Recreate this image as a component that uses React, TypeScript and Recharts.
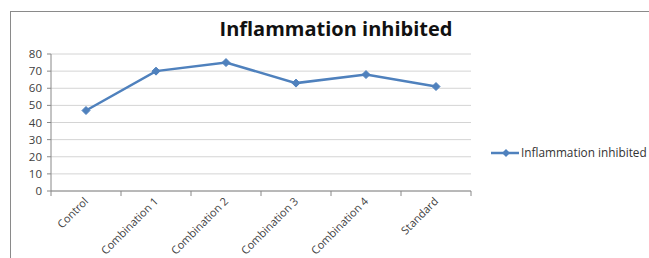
import React from 'react';
import { LineChart, Line, XAxis, YAxis, CartesianGrid } from 'recharts';

const categories = ['Control', 'Combination 1', 'Combination 2', 'Combination 3', 'Combination 4', 'Standard'];
const inhibited = [47, 70, 75, 63, 68, 61];
const yTicks = [0, 10, 20, 30, 40, 50, 60, 70, 80];
const seriesName = 'Inflammation inhibited';

const chartData = categories.map((name, i) => ({ name, value: inhibited[i] }));

const W = 649;
const H = 258;
const margin = { top: 54, right: 178, bottom: 0, left: 0 };
const yAxisWidth = 51;
const band = (W - margin.left - margin.right - yAxisWidth) / categories.length;
const blue = '#4F81BD';
const font = '"Open Sans", sans-serif';

// Excel-style category tick: tick marks sit between categories, label rotated
const XTick = (props: any) => {
  const { x, y, payload, index } = props;
  const isLast = index === categories.length - 1;
  const lx = x + 3;
  const ly = y + 11;
  return (
    <g>
      <line x1={x - band / 2} y1={y} x2={x - band / 2} y2={y + 5} stroke="#888" />
      {isLast && <line x1={x + band / 2} y1={y} x2={x + band / 2} y2={y + 5} stroke="#888" />}
      <text
        x={lx}
        y={ly}
        transform={`rotate(-45, ${lx}, ${ly})`}
        textAnchor="end"
        fontSize={11}
        fill="#404040"
        fontFamily={font}
      >
        {payload.value}
      </text>
    </g>
  );
};

const Diamond = (props: any) => {
  const { cx, cy, index } = props;
  const r = 4;
  return (
    <path
      key={`d-${index}`}
      d={`M${cx},${cy - r}L${cx + r},${cy}L${cx},${cy + r}L${cx - r},${cy}Z`}
      fill={blue}
      stroke={blue}
    />
  );
};

const LegendBox = () => (
  <svg width={160} height={16} style={{ position: 'absolute', left: 491, top: 145, overflow: 'visible' }}>
    <line x1={0} y1={8} x2={28} y2={8} stroke={blue} strokeWidth={2.5} />
    <path d="M15,4L19,8L15,12L11,8Z" fill={blue} />
    <text x={30} y={12} fontSize={11.8} fill="#333" fontFamily={font}>
      {seriesName}
    </text>
  </svg>
);

export default function App() {
  return (
    <div style={{ position: 'absolute', left: 0, top: 0, width: W, height: H, overflow: 'hidden', background: '#fff' }}>
      <div
        style={{
          position: 'absolute',
          left: 10,
          top: 11,
          width: W,
          height: H,
          borderLeft: '1px solid #8a8a8a',
          borderTop: '1px solid #8a8a8a',
        }}
      />
      <div
        style={{
          position: 'absolute',
          left: 0,
          top: 15,
          width: 672,
          textAlign: 'center',
          fontFamily: font,
          fontWeight: 700,
          fontSize: 20,
          color: '#111',
        }}
      >
        {seriesName}
      </div>
      <LineChart width={W} height={H} data={chartData} margin={margin} style={{ position: 'absolute', left: 0, top: 0 }}>
        <CartesianGrid horizontal vertical={false} stroke="#d4d4d4" />
        <XAxis
          dataKey="name"
          scale="band"
          height={67}
          tickSize={0}
          tickMargin={0}
          tickLine={false}
          interval={0}
          stroke="#888"
          tick={<XTick />}
        />
        <YAxis
          width={yAxisWidth}
          domain={[0, 80]}
          ticks={yTicks}
          interval={0}
          tickSize={4}
          tickMargin={5}
          stroke="#888"
          tick={{ fill: '#404040', fontSize: 11.5, fontFamily: font }}
        />
        <Line
          type="linear"
          dataKey="value"
          name={seriesName}
          stroke={blue}
          strokeWidth={2.5}
          dot={<Diamond />}
          activeDot={false}
          isAnimationActive={false}
        />
      </LineChart>
      <LegendBox />
    </div>
  );
}
